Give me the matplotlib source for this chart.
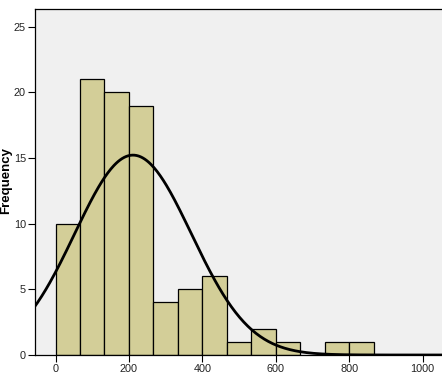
import numpy as np
import matplotlib.pyplot as plt

# histogram bins (width ~66.7) and counts
bin_edges = [0, 66.7, 133.3, 200, 266.7, 333.3, 400, 466.7, 533.3, 600, 666.7, 733.3, 800, 866.7]
counts = [10, 21, 20, 19, 4, 5, 6, 1, 2, 1, 0, 1, 1]

# fitted normal curve
mean = 211
sd = 159

y_ticks = [0, 5, 10, 15, 20, 25]
x_ticks = [0, 200, 400, 600, 800, 1000]


def main():
    plt.rcParams['font.family'] = ['Liberation Sans', 'DejaVu Sans']
    fig = plt.figure(figsize=(4.42, 3.76), dpi=100)
    ax = fig.add_axes([35 / 442, 1 - 355 / 376, 1 - 35 / 442, (355 - 9) / 376])
    ax.set_facecolor('#F0F0F0')

    lefts = np.array(bin_edges[:-1])
    widths = np.diff(bin_edges)
    for left, w, c in zip(lefts, widths, counts):
        if c > 0:
            ax.bar(left, c, width=w, align='edge', color='#D3CE98',
                   edgecolor='black', linewidth=0.9, zorder=2)

    n = sum(counts)
    bw = widths.mean()
    xs = np.linspace(-60, 1060, 400)
    ys = n * bw / (sd * np.sqrt(2 * np.pi)) * np.exp(-0.5 * ((xs - mean) / sd) ** 2)
    ax.plot(xs, ys, color='black', linewidth=2.0, zorder=3)

    ax.set_xlim(-56, 1053)
    ax.set_ylim(0, 26.35)
    ax.set_xticks(x_ticks)
    ax.set_yticks(y_ticks)
    ax.tick_params(axis='both', direction='out', length=5, width=0.8,
                   labelsize=7.8, colors='black', labelcolor='#222222')
    ax.tick_params(axis='y', pad=1.5)
    ax.tick_params(axis='x', pad=1.5)
    ax.spines['right'].set_visible(False)
    for s in ('left', 'top', 'bottom'):
        ax.spines[s].set_linewidth(0.9)

    fig.text(0.014, 0.52, 'Frequency', rotation=90, ha='center', va='center',
             fontsize=9.5, fontweight='bold')

    fig.savefig('out.png', dpi=100)


if __name__ == "__main__":
    main()
